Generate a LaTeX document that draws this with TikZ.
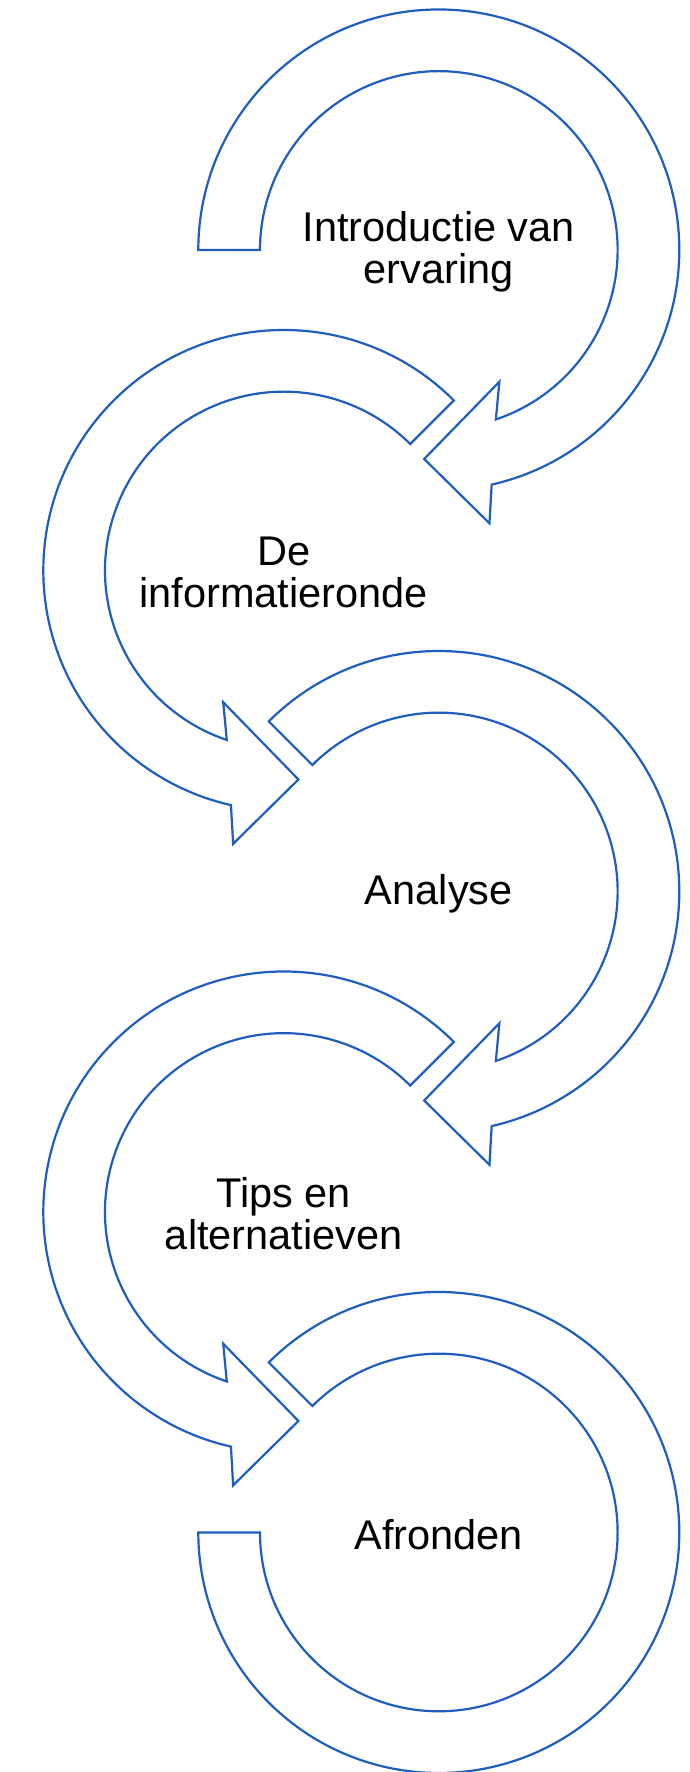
\documentclass[tikz,border=0pt]{standalone}
\usepackage{fontspec}
\setmainfont{Liberation Sans}
\usepackage{tikz}
\usetikzlibrary{positioning}
\definecolor{ringblue}{RGB}{31,94,190}
\tikzstyle{ring}=[draw=ringblue, line width=2.2, line join=miter, fill=white]
\tikzstyle{phase}=[align=center, font=\fontsize{41.5}{42}\selectfont, inner sep=0pt, yshift=-2]
\def\ringin{178.8}
\def\ringout{240.5}

\begin{document}
\begin{tikzpicture}[x=1pt, y=1pt]
  \useasboundingbox (0,0) rectangle (689,1772);
  \coordinate (c1) at (438.8,1522);
  \coordinate (c2) at (283.8,1201.5);
  \coordinate (c3) at (438.8,880.5);
  \coordinate (c4) at (283.8,560);
  \coordinate (c5) at (438.8,239.5);

  % clockwise rings with arrow at the bottom
  \draw [ring, shift={(c1)}] (180:\ringout)
    arc [start angle=180, end angle=-77.3, radius=\ringout]
    -- (-79.5:278) -- (-94:209.5) -- (-65.3:145) -- (-71.4:\ringin)
    arc [start angle=-71.4, end angle=180, radius=\ringin] -- cycle;
  \draw [ring, shift={(c3)}] (135:\ringout)
    arc [start angle=135, end angle=-77.3, radius=\ringout]
    -- (-79.5:278) -- (-94:209.5) -- (-65.3:145) -- (-71.4:\ringin)
    arc [start angle=-71.4, end angle=135, radius=\ringin] -- cycle;

  % counter-clockwise rings
  \foreach \c in {c2,c4}
    \draw [ring, shift={(\c)}] (45:\ringout)
      arc [start angle=45, end angle=257.3, radius=\ringout]
      -- (259.5:278) -- (274:209.5) -- (245.3:145) -- (251.4:\ringin)
      arc [start angle=251.4, end angle=45, radius=\ringin] -- cycle;

  % last ring, no arrow
  \draw [ring, shift={(c5)}] (135:\ringout)
    arc [start angle=135, end angle=-180, radius=\ringout]
    -- (180:\ringin)
    arc [start angle=-180, end angle=135, radius=\ringin] -- cycle;

  \node [phase] (intro) at (c1) {Introductie van\\ervaring};
  \node [phase] (info) at (c2) {De\\informatieronde};
  \node [phase] (analyse) at (c3) {Analyse};
  \node [phase] (tips) at (c4) {Tips en\\alternatieven};
  \node [phase] (afronden) at (c5) {Afronden};
\end{tikzpicture}
\end{document}
